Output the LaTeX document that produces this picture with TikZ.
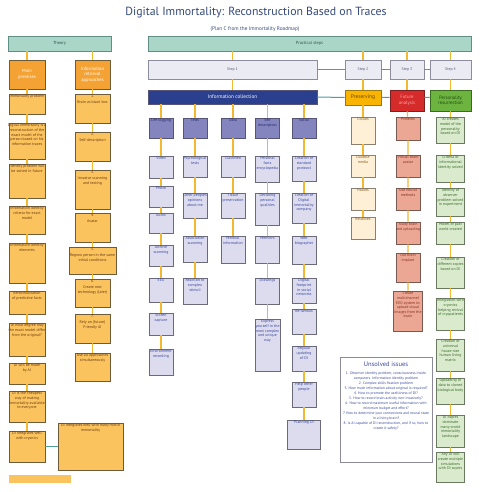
\documentclass[tikz,border=0pt]{standalone}
\usepackage{fontspec}
\setmainfont{PT Sans}

\definecolor{hdfill}{HTML}{A9D6C6}
\definecolor{hddraw}{HTML}{5E8E84}
\definecolor{hdtxt}{HTML}{34554C}
\definecolor{ordark}{HTML}{F4A233}
\definecolor{orlight}{HTML}{FBC35E}
\definecolor{ordraw}{HTML}{6E5B3A}
\definecolor{ortxt}{HTML}{6A3C12}
\definecolor{stfill}{HTML}{EBEBF3}
\definecolor{stdraw}{HTML}{8C8C9C}
\definecolor{sttxt}{HTML}{5A5A78}
\definecolor{icfill}{HTML}{2B3F8F}
\definecolor{pufill}{HTML}{8484BE}
\definecolor{pudraw}{HTML}{55557A}
\definecolor{putxt}{HTML}{262A6E}
\definecolor{lvfill}{HTML}{DCDCEE}
\definecolor{lvdraw}{HTML}{6A6A7A}
\definecolor{lvtxt}{HTML}{3A48A0}
\definecolor{prfill}{HTML}{F8B400}
\definecolor{prdraw}{HTML}{9A7A10}
\definecolor{prtxt}{HTML}{6B4500}
\definecolor{crfill}{HTML}{FDF0D6}
\definecolor{crdraw}{HTML}{8A8070}
\definecolor{crtxt}{HTML}{8A5A20}
\definecolor{fafill}{HTML}{D62B2B}
\definecolor{fadraw}{HTML}{7A2020}
\definecolor{fatxt}{HTML}{F7A6A6}
\definecolor{safill}{HTML}{EBA794}
\definecolor{sadraw}{HTML}{7A5A50}
\definecolor{satxt}{HTML}{8A3020}
\definecolor{pefill}{HTML}{6DB33F}
\definecolor{pedraw}{HTML}{3A6A20}
\definecolor{petxt}{HTML}{1F4A10}
\definecolor{gnfill}{HTML}{D9EBCC}
\definecolor{gndraw}{HTML}{6A7A60}
\definecolor{gntxt}{HTML}{3A6A2A}
\definecolor{lnk}{HTML}{F2B830}
\definecolor{tlk}{HTML}{4E9C9C}
\definecolor{ttl}{HTML}{34497A}
\definecolor{uidraw}{HTML}{8A8A9A}

\tikzset{
  box/.style={rectangle, line width=0.7pt, inner sep=0pt, align=center},
  sz/.style 2 args={minimum width=#1pt, minimum height=#2pt},
  lb/.style={anchor=north, inner sep=1.3pt, align=center, font=\fontsize{3.9}{4.6}\selectfont},
  hdbox/.style={box, fill=hdfill, draw=hddraw, text=hdtxt, font=\fontsize{4.4}{5}\selectfont},
  orhead/.style={box, fill=ordark, draw=ordraw, text=white, font=\fontsize{4.6}{5.6}\selectfont},
  orbox/.style={box, fill=orlight, draw=ordraw, label={[lb, text=ortxt]north:{#1}}},
  stepbox/.style={box, fill=stfill, draw=stdraw, text=sttxt, font=\fontsize{3.9}{4.5}\selectfont},
  pubox/.style={box, fill=pufill, draw=pudraw, label={[lb, text=putxt]north:{#1}}},
  lvbox/.style={box, fill=lvfill, draw=lvdraw, label={[lb, text=lvtxt]north:{#1}}},
  crbox/.style={box, fill=crfill, draw=crdraw, label={[lb, text=crtxt]north:{#1}}},
  sabox/.style={box, fill=safill, draw=sadraw, label={[lb, text=satxt]north:{#1}}},
  gnbox/.style={box, fill=gnfill, draw=gndraw, label={[lb, text=gntxt]north:{#1}}},
  link/.style={draw=lnk, line width=1.3pt},
  tlink/.style={draw=tlk, line width=1pt},
}

\begin{document}
\begin{tikzpicture}[x=1pt, y=-1pt]

  \fill[white] (0,0) rectangle (492,492);
  \useasboundingbox (0,0) rectangle (492,492);

  % === Titolo ===
  \node[font=\fontsize{11.8}{14}\selectfont, text=ttl] (title) at (256,13) {Digital Immortality: Reconstruction Based on Traces};
  \node[font=\fontsize{5.3}{6}\selectfont, text=ttl] (sub) at (255,29) {(Plan C from the Immortality Roadmap)};

  % === Intestazioni ===
  \node[hdbox, sz={103}{15}] (th) at (59.5,43.5) {Theory};
  \node[hdbox, sz={323}{15}] (ps) at (309.5,43.5) {Practical steps};

  % === Theory: premises ===
  \node[orhead, sz={36}{29}] (mp) at (27,74.5) {Main\\premises};
  \node[orbox={Immortality problem}, sz={36}{20}] (t1) at (27,104) {};
  \node[orbox={Digital immortality is a\\reconstruction of the\\exact model of the\\person based on his\\information traces}, sz={36}{36}] (t2) at (27,141) {};
  \node[orbox={Identity problem will\\be solved in future}, sz={36}{34}] (t3) at (27,181) {};
  \node[orbox={Information identity\\criteria for exact\\model}, sz={36}{28}] (t4) at (27,220) {};
  \node[orbox={Information identity\\elements}, sz={36}{40}] (t5) at (27,263) {};
  \node[orbox={Renormalization\\of predictive facts}, sz={36}{23}] (t6) at (27,302.5) {};
  \node[orbox={To what degree may\\the exact model differ\\from the original?}, sz={36}{33}] (t7) at (27,339.5) {};
  \node[orbox={DI will be made\\by AI}, sz={36}{21}] (t8) at (27,373.5) {};
  \node[orbox={DI is the cheapest\\way of making\\immortality available\\to everyone}, sz={36}{31}] (t9) at (27,406.5) {};
  \node[orbox={DI integrates well\\with cryonics}, sz={36}{31}] (t10) at (27,446.5) {};
  \node[orbox={DI integrates well with many-world\\immortality}, sz={65}{47}] (tw) at (90.5,446.5) {};
  \fill[orlight] (9,475) rectangle (71,483);

  % === Theory: approaches ===
  \node[orhead, sz={35}{29}] (ira) at (92.5,74.5) {Information\\retrieval\\approaches};
  \node[orbox={1.\\[1pt]Brain as black box}, sz={35}{29}] (a1) at (92.5,108.5) {};
  \node[orbox={2.\\[1pt]Self-description}, sz={35}{29}] (a2) at (92.5,146.5) {};
  \node[orbox={3.\\[1pt]Invasive scanning\\and testing}, sz={35}{39}] (a3) at (92.5,189.5) {};
  \node[orbox={4.\\[1pt]Avatar}, sz={35}{29}] (a4) at (92.5,227.5) {};
  \node[orbox={5.\\[1pt]Regrow person in the same\\initial conditions}, sz={47}{27}] (a5) at (92.5,260.5) {};
  \node[orbox={6.\\[1pt]Create new\\technology (later)}, sz={35}{28}] (a6) at (92.5,293) {};
  \node[orbox={7.\\[1pt]Rely on (future)\\Friendly AI}, sz={35}{29}] (a7) at (92.5,328.5) {};
  \node[orbox={Use all approaches\\simultaneously}, sz={35}{28}] (a8) at (92.5,367) {};

  % === Practical steps ===
  \node[stepbox, sz={169}{19}] (s1) at (232.5,69.5) {Step 1};
  \node[stepbox, sz={36}{19}] (s2) at (363,69.5) {Step 2};
  \node[stepbox, sz={34}{19}] (s3) at (407,69.5) {Step 3};
  \node[stepbox, sz={41}{19}] (s4) at (450.5,69.5) {Step 4};

  \node[box, fill=icfill, draw=pudraw, text=white, font=\fontsize{5.2}{6}\selectfont, sz={169}{14}] (ic) at (232.5,97) {Information collection};
  \node[box, fill=prfill, draw=prdraw, text=prtxt, font=\fontsize{5.4}{6}\selectfont, sz={36}{15}] (pr) at (363,97.5) {Preserving};
  \node[box, fill=fafill, draw=fadraw, text=fatxt, font=\fontsize{4.8}{5.6}\selectfont, sz={34}{21}] (fa) at (407,100.5) {Future\\analysis};
  \node[box, fill=pefill, draw=pedraw, text=petxt, font=\fontsize{4.8}{5.6}\selectfont, sz={41}{21}] (pe) at (450.5,100.5) {Personality\\resurrection};

  % === Information collection ===
  \node[pubox={Life logging}, sz={24}{20}] (la) at (161,128) {};
  \node[pubox={Tests}, sz={24}{20}] (lb) at (195,128) {};
  \node[pubox={Data}, sz={24}{20}] (lc) at (233,128) {};
  \node[pubox={Self\\description}, sz={24}{20}] (ld) at (267.5,128) {};
  \node[pubox={Social}, sz={24}{20}] (le) at (304,128) {};

  % Life logging
  \node[lvbox={Video}, sz={24}{22}] (vid) at (161,167) {};
  \node[lvbox={Photo}, sz={24}{21}] (pho) at (161,196.5) {};
  \node[lvbox={Audio}, sz={24}{20}] (aud) at (161,223) {};
  \node[lvbox={Archive\\scanning}, sz={24}{21}] (arc) at (161,255.5) {};
  \node[lvbox={EEG}, sz={24}{24}] (eeg) at (161,290) {};
  \node[lvbox={Screen\\capture}, sz={24}{22}] (scr) at (161,324) {};
  \node[lvbox={Environment\\recording}, sz={24}{26}] (env) at (161,362) {};

  % Tests
  \node[lvbox={Psychological\\tests}, sz={24}{21}] (psy) at (195,166.5) {};
  \node[lvbox={Other peoples\\opinions\\about me}, sz={24}{25}] (oth) at (195,205.5) {};
  \node[lvbox={Association\\scanning}, sz={24}{26}] (ass) at (195,249) {};
  \node[lvbox={Reaction to\\complex\\stimuli}, sz={24}{26}] (rea) at (195,291) {};

  % Data
  \node[lvbox={Classified}, sz={24}{21}] (cla) at (233,166.5) {};
  \node[lvbox={Tissue\\preservation}, sz={24}{25}] (tis) at (233,205.5) {};
  \node[lvbox={Medical\\information}, sz={24}{27}] (med) at (233,249.5) {};

  % Self description
  \node[lvbox={Personal\\facts\\encyclopedia}, sz={24}{26}] (pfe) at (267.5,169) {};
  \node[lvbox={Declaring\\personal\\qualities}, sz={24}{32}] (dec) at (267.5,209) {};
  \node[lvbox={Memoirs}, sz={24}{27}] (mem) at (267.5,249.5) {};
  \node[lvbox={Drawings}, sz={24}{26}] (dra) at (267.5,291) {};
  \node[lvbox={Express\\yourself in the\\most complex\\and unique\\way}, sz={25}{52}] (exs) at (267.5,345) {};

  % Social
  \node[lvbox={Creation of\\standard\\protocol}, sz={24}{25}] (csp) at (304,168.5) {};
  \node[lvbox={Creation of\\Digital\\immortality\\company}, sz={24}{30}] (cdi) at (304,208) {};
  \node[lvbox={Web\\biographer}, sz={24}{28}] (web) at (304,250) {};
  \node[lvbox={Digital\\footprint\\in social\\networks}, sz={24}{25}] (dfs) at (304,290.5) {};
  \node[lvbox={Be famous}, sz={24}{25}] (fam) at (304,321.5) {};
  \node[lvbox={Regular\\updating\\of DI}, sz={24}{25}] (reg) at (304,358.5) {};
  \node[lvbox={Help other\\people}, sz={24}{25}] (hel) at (304,394.5) {};
  \node[lvbox={Planning DI}, sz={33}{29}] (pla) at (304,434.5) {};

  % === Preserving ===
  \node[crbox={Clouds}, sz={24}{27}] (clo) at (363,130.5) {};
  \node[crbox={Durable\\media}, sz={24}{22}] (dur) at (363,166) {};
  \node[crbox={Hoards}, sz={24}{22}] (hoa) at (363,199) {};
  \node[crbox={Relatives}, sz={24}{22}] (rel) at (363,228) {};

  % === Future analysis ===
  \node[sabox={Proteins}, sz={24}{23}] (pro) at (408,128.5) {};
  \node[sabox={Virtual brain\\avatar}, sz={24}{22}] (vba) at (408,166) {};
  \node[sabox={Use neural\\methods}, sz={24}{22}] (unm) at (408,199) {};
  \node[sabox={Study brain\\and uploading}, sz={24}{22}] (sbu) at (408,233) {};
  \node[sabox={Old brain\\implant}, sz={24}{29}] (obi) at (408,267.5) {};
  \node[sabox={Create\\multichannel\\EEG system to\\upload visual\\images from the\\brain}, sz={29}{40}] (cme) at (408,311) {};

  % === Personality resurrection ===
  \node[gnbox={AI creates\\model of the\\personality\\based on DI}, sz={28}{26}] (g1) at (450.5,130) {};
  \node[gnbox={Criteria of\\informational\\identity solved}, sz={28}{27}] (g2) at (450.5,168.5) {};
  \node[gnbox={Identity of\\observer\\problem solved\\in experiment}, sz={28}{28}] (g3) at (450.5,202) {};
  \node[gnbox={Model of past\\world created}, sz={28}{22}] (g4) at (450.5,233) {};
  \node[gnbox={Creation of\\different copies\\based on DI}, sz={28}{31}] (g5) at (450.5,272.5) {};
  \node[gnbox={Integration with\\cryonics\\helping revival\\of cryopatients}, sz={28}{32}] (g6) at (450.5,314) {};
  \node[gnbox={Creation of\\universal\\house-size\\human living\\matrix}, sz={28}{32}] (g7) at (450.5,355) {};
  \node[gnbox={Uploading DI\\data to cloned\\biological body}, sz={28}{26}] (g8) at (450.5,391) {};
  \node[gnbox={DI copies\\dominate\\many-world\\immortality\\landscape}, sz={28}{32}] (g9) at (450.5,431) {};
  \node[gnbox={Any AI will\\create multiple\\simulations\\with DI copies}, sz={28}{30}] (g10) at (450.5,467) {};

  % === Unsolved issues ===
  \node[box, fill=white, draw=uidraw, line width=0.9pt, sz={92}{105},
        label={[lb, text=lvtxt, inner sep=5pt, font=\fontsize{3.7}{5}\selectfont]north:{{\fontsize{6.5}{8}\selectfont Unsolved issues}\\[3pt]
        1. Observer identity problem, consciousness inside\\computers. Information identity problem\\
        2. Complex skills fixation problem\\
        3. How much information about original is required?\\
        4. How to promote the usefulness of DI?\\
        5. How to record brain activity non-invasively?\\
        6. How to record maximum useful information with\\minimum budget and effort?\\
        7 How to determine your connections and neural state\\in a living brain?\\
        8. Is AI capable of DI reconstruction, and if so, how to\\create it safely?}}] (ui) at (386,409.5) {};

  % === Connettori ===
  \draw[link] (mp.north |- th.south) -- (mp);
  \draw[link] (ira.north |- th.south) -- (ira);
  \draw[link] (mp) -- (t1) (t1) -- (t2) (t2) -- (t3) (t3) -- (t4) (t4) -- (t5)
              (t5) -- (t6) (t6) -- (t7) (t7) -- (t8) (t8) -- (t9) (t9) -- (t10);
  \draw[link] (ira) -- (a1) (a1) -- (a2) (a2) -- (a3) (a3) -- (a4) (a4) -- (a5)
              (a5) -- (a6) (a6) -- (a7) (a7) -- (a8);
  \draw[tlink] (t10.east) -- (tw.west |- t10.east);

  \draw[link] (s1.north |- ps.south) -- (s1);
  \draw[link] (s2.north |- ps.south) -- (s2);
  \draw[link] (s3.north |- ps.south) -- (s3);
  \draw[link] (s4.north |- ps.south) -- (s4);
  \draw[tlink] (s1) -- (s2) (s2) -- (s3) (s3) -- (s4);
  \draw[link] (s1) -- (ic) (s2) -- (pr) (s3) -- (fa) (s4) -- (pe);
  \draw[tlink] (ic.east) -- (pr.west) (pr.east) -- (fa.west |- pr.east) (fa.east |- pr.east) -- (pe.west |- pr.east);

  \draw[link] (la.north |- ic.south) -- (la);
  \draw[link] (lb.north |- ic.south) -- (lb);
  \draw[link] (lc.north |- ic.south) -- (lc);
  \draw[link] (ld.north |- ic.south) -- (ld);
  \draw[link] (le.north |- ic.south) -- (le);

  \draw[link] (la) -- (vid) (vid) -- (pho) (pho) -- (aud) (aud) -- (arc) (arc) -- (eeg) (eeg) -- (scr) (scr) -- (env);
  \draw[link] (lb) -- (psy) (psy) -- (oth) (oth) -- (ass) (ass) -- (rea);
  \draw[link] (lc) -- (cla) (cla) -- (tis) (tis) -- (med);
  \draw[link] (ld) -- (pfe) (pfe) -- (dec) (dec) -- (mem) (mem) -- (dra) (dra) -- (exs);
  \draw[link] (le) -- (csp) (csp) -- (cdi) (cdi) -- (web) (web) -- (dfs) (dfs) -- (fam) (fam) -- (reg) (reg) -- (hel) (hel) -- (pla);

  \draw[link] (pr) -- (clo) (clo) -- (dur) (dur) -- (hoa) (hoa) -- (rel);
  \draw[link] (fa) -- (pro) (pro) -- (vba) (vba) -- (unm) (unm) -- (sbu) (sbu) -- (obi) (obi) -- (cme);
  \draw[link] (pe) -- (g1) (g1) -- (g2) (g2) -- (g3) (g3) -- (g4) (g4) -- (g5)
              (g5) -- (g6) (g6) -- (g7) (g7) -- (g8) (g8) -- (g9) (g9) -- (g10);

\end{tikzpicture}
\end{document}
